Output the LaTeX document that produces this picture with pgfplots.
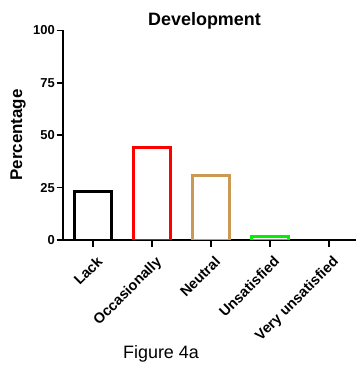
\documentclass[border=0pt]{standalone}
\usepackage{pgfplots}
\pgfplotsset{compat=1.18}
\usepackage{fontspec}
\setmainfont{Liberation Sans}
\definecolor{tan}{RGB}{204,153,85}
\definecolor{brightgreen}{RGB}{0,240,0}
\begin{document}
\begin{tikzpicture}
\useasboundingbox (0,0) rectangle (356bp,365bp);
\begin{axis}[
  at={(63bp,125bp)}, anchor=south west,
  scale only axis, width=293bp, height=209.5bp,
  xmin=-0.508, xmax=4.458, ymin=0, ymax=100,
  axis x line=bottom, axis y line=left,
  axis line style={line width=1.8bp, -},
  xtick={0,1,2,3,4},
  xticklabels={Lack,Occasionally,Neutral,Unsatisfied,Very unsatisfied},
  ytick={0,25,50,75,100},
  tick style={line width=1.6bp, black},
  major tick length=6.5bp,
  tick align=outside,
  /pgf/number format/assume math mode=true,
  xticklabel style={font=\fontsize{14.5}{15}\selectfont\bfseries, rotate=45, anchor=north east, inner sep=1bp, yshift=-7bp, xshift=-3bp},
  yticklabel style={font=\fontsize{13}{14}\selectfont\bfseries, inner sep=1.5bp},
]
\addplot[ybar, bar width=37bp, line width=2.8bp, black, fill=white] coordinates {(0,23)};
\addplot[ybar, bar width=37bp, line width=2.8bp, red, fill=white] coordinates {(1,44)};
\addplot[ybar, bar width=37bp, line width=2.8bp, tan, fill=white] coordinates {(2,30.6)};
\addplot[ybar, bar width=37bp, line width=2.8bp, brightgreen, fill=white] coordinates {(3,1.6)};
\end{axis}
\node[anchor=base, font=\fontsize{18}{20}\selectfont\bfseries] at (204.5bp,339bp) {Development};
\node[rotate=90, anchor=base, font=\fontsize{17}{19}\selectfont\bfseries] at (22bp,230bp) {Percentage};
\node[anchor=base, font=\fontsize{18}{20}\selectfont] at (161bp,7bp) {Figure 4a};
\end{tikzpicture}
\end{document}
